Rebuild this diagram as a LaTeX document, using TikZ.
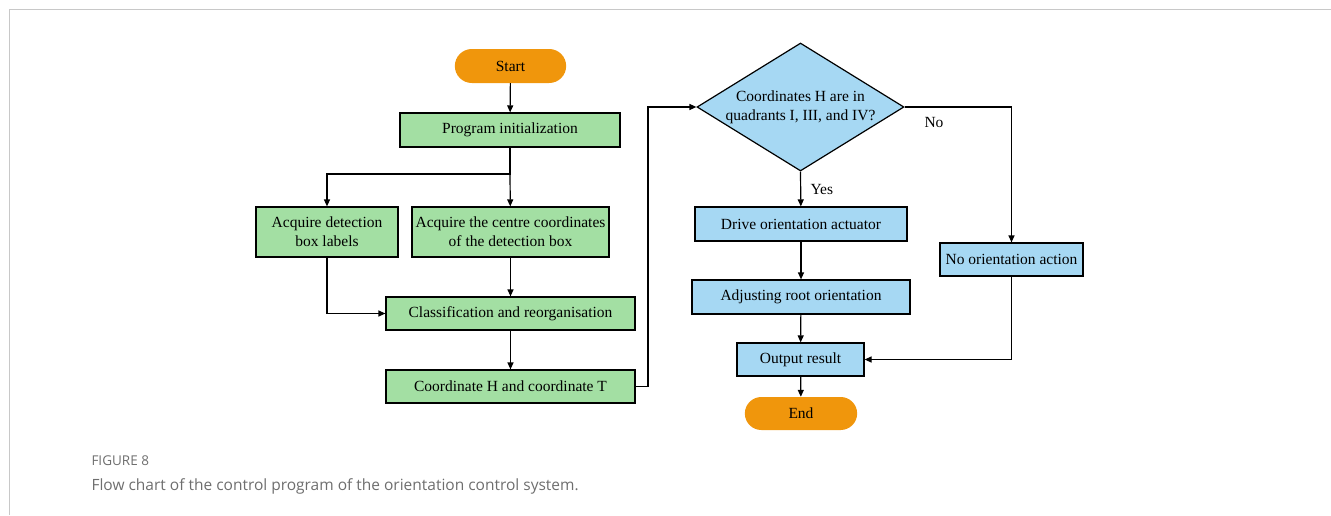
\documentclass[tikz,border=0pt]{standalone}
\usepackage{fontspec}
\setmainfont{Liberation Serif}
\newfontfamily\capfont{Open Sans}
\usetikzlibrary{shapes.geometric,shapes.misc,arrows.meta}
\definecolor{boxgreen}{RGB}{163,223,163}
\definecolor{boxblue}{RGB}{166,216,243}
\definecolor{termorange}{RGB}{240,150,12}
\definecolor{framegray}{RGB}{200,200,200}
\definecolor{capgray}{RGB}{110,110,110}

\begin{document}
\begin{tikzpicture}[x=1pt,y=-1pt,
    chartfont/.style={font=\fontsize{15.5}{19}\selectfont},
    greenbox/.style={draw,line width=1.2pt,fill=boxgreen,minimum height=34pt,align=center,inner sep=1pt,chartfont},
    bluebox/.style={greenbox,fill=boxblue},
    terminal/.style={rounded rectangle,fill=termorange,minimum height=34pt,chartfont},
    decision/.style={diamond,draw,line width=1.2pt,fill=boxblue,aspect=1.6,inner sep=0pt,align=center,chartfont},
    flow/.style={-{Triangle[length=7pt,width=6pt]},line width=1.2pt}]
    \useasboundingbox (0,0) rectangle (1331,515);
    \draw[framegray] (9,515) -- (9,9.5) -- (1331,9.5);
    \node[terminal,minimum width=118pt] (start) at (510.5,66) {Start};
    \node[greenbox,minimum width=220pt] (init) at (510,130) {Program initialization};
    \node[greenbox,minimum width=142pt,minimum height=50pt] (labels) at (327,232) {Acquire detection\\box labels};
    \node[greenbox,minimum width=197pt,minimum height=50pt] (centre) at (510.5,232) {Acquire the centre coordinates\\of the detection box};
    \node[greenbox,minimum width=249pt,minimum height=33pt] (classify) at (510.5,313.5) {Classification and reorganisation};
    \node[greenbox,minimum width=249pt,minimum height=33pt] (coordHT) at (510.5,386.5) {Coordinate H and coordinate T};
    \node[decision,minimum width=207pt,minimum height=128pt] (quad) at (800.5,107) {Coordinates H are in\\quadrants I, III, and IV?};
    \node[bluebox,minimum width=212pt] (drive) at (801,224) {Drive orientation actuator};
    \node[bluebox,minimum width=218pt] (adjust) at (801,297) {Adjusting root orientation};
    \node[bluebox,minimum width=127pt,minimum height=33pt] (output) at (800.5,359.5) {Output result};
    \node[bluebox,minimum width=143pt,minimum height=33pt] (noact) at (1011.5,259.5) {No orientation action};
    \node[terminal,minimum width=119pt,minimum height=33pt] (end) at (801,413.5) {End};
    \coordinate (split) at (510,174);
    \coordinate (back) at (648,107);

    \draw[flow] (start) -- (init);
    \draw[flow] (init) -- (split) -| (labels);
    \draw[flow] (split) -- (centre);
    \draw[flow] (centre) -- (classify);
    \draw[flow] (labels) |- (classify);
    \draw[flow] (classify) -- (coordHT);
    \draw[flow] (coordHT.east) -| (back) -- (quad.west);
    \draw[flow] (quad.south) -- node[right=6pt,pos=0.5,chartfont] (yeslabel) {Yes} (drive);
    \draw[flow] (quad.east) -| (noact.north);
    \node[chartfont] (nolabel) at (934,122) {No};
    \draw[flow] (drive) -- (adjust);
    \draw[flow] (adjust) -- (output);
    \draw[flow] (noact.south) |- (output.east);
    \draw[flow] (output) -- (end);

    \node[anchor=west,text=capgray,font=\capfont\fontsize{13.5}{16}\selectfont] (fignum) at (88,461) {FIGURE 8};
    \node[anchor=west,text=capgray,font=\capfont\fontsize{15.5}{18}\selectfont] (caption) at (88,486) {Flow chart of the control program of the orientation control system.};
\end{tikzpicture}
\end{document}
